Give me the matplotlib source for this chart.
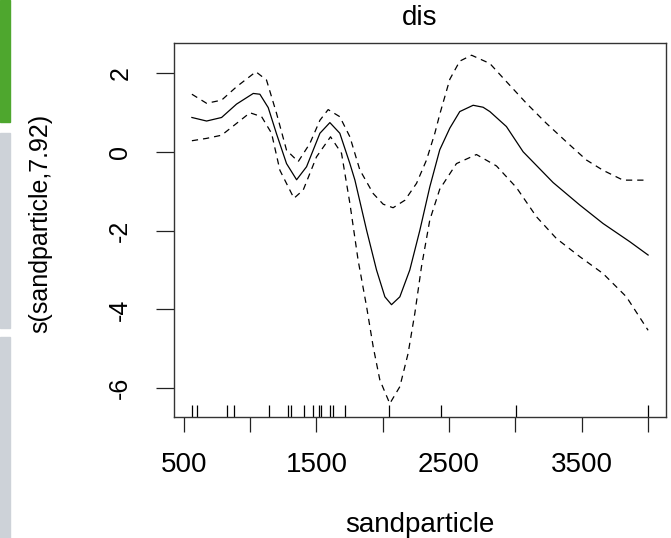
import matplotlib
matplotlib.use("Agg")
import matplotlib.pyplot as plt
from matplotlib.patches import Rectangle

plt.rcParams['font.family'] = ['Liberation Sans', 'DejaVu Sans']

# fitted smooth
fit_x = [560, 671, 784, 897, 1023, 1073, 1136, 1199, 1274, 1350, 1425, 1526, 1601,
         1676, 1752, 1790, 1878, 1953, 2016, 2066, 2129, 2204, 2280, 2355, 2430,
         2506, 2581, 2682, 2757, 2808, 2933, 3059, 3285, 3486, 3662, 3863, 4002]
fit_y = [0.87, 0.78, 0.87, 1.21, 1.48, 1.46, 1.12, 0.45, -0.30, -0.71, -0.38, 0.47, 0.74,
         0.47, -0.30, -0.72, -1.99, -3.00, -3.68, -3.88, -3.68, -3.00, -1.99, -0.89, 0.05,
         0.60, 1.02, 1.18, 1.13, 1.02, 0.64, 0.00, -0.78, -1.35, -1.82, -2.28, -2.62]

# upper confidence band
up_x = [560, 671, 784, 897, 1043, 1123, 1199, 1274, 1362, 1450, 1526, 1588, 1676,
        1752, 1827, 1928, 2003, 2078, 2167, 2255, 2330, 2393, 2430, 2506, 2581,
        2670, 2808, 2933, 3084, 3235, 3386, 3537, 3662, 3813, 3964, 4002]
up_y = [1.46, 1.23, 1.31, 1.65, 2.03, 1.82, 0.97, 0.04, -0.25, 0.21, 0.80, 1.07, 0.89,
        0.38, -0.46, -1.06, -1.33, -1.42, -1.23, -0.80, -0.21, 0.47, 0.95, 1.84, 2.30,
        2.45, 2.24, 1.78, 1.23, 0.72, 0.25, -0.21, -0.47, -0.72, -0.72, -0.72]

# lower confidence band
lo_x = [560, 671, 784, 897, 998, 1086, 1161, 1224, 1330, 1400, 1500, 1606, 1689,
        1752, 1814, 1878, 1928, 1978, 2053, 2129, 2191, 2242, 2292, 2355, 2430,
        2556, 2707, 2858, 3009, 3160, 3310, 3486, 3662, 3838, 4002]
lo_y = [0.28, 0.34, 0.42, 0.72, 0.99, 0.89, 0.47, -0.47, -1.18, -0.97, -0.13, 0.38, -0.04,
        -1.31, -2.75, -3.93, -4.95, -5.79, -6.39, -5.96, -5.12, -4.10, -2.92, -1.73, -0.95,
        -0.30, -0.07, -0.36, -0.91, -1.65, -2.20, -2.66, -3.09, -3.68, -4.53]

# rug (observed sandparticle values)
rug_x = [563, 600, 822, 880, 1139, 1287, 1307, 1407, 1471, 1521, 1531, 1601, 1626,
         1714, 2046, 2436, 3009, 4002]

x_ticks = [500, 1000, 1500, 2000, 2500, 3000, 3500, 4000]
x_ticklabels = ['500', '', '1500', '', '2500', '', '3500', '']
y_ticks = [2, 0, -2, -4, -6]
y_ticklabels = ['2', '0', '-2', '-4', '-6']

W, H = 671, 538
fig = plt.figure(figsize=(W / 100, H / 100), dpi=100)
L, R, T, B = 174, 666, 43, 417
ax = fig.add_axes([L / W, 1 - B / H, (R - L) / W, (B - T) / H])

ax.plot(fit_x, fit_y, color='black', lw=0.9)
ax.plot(up_x, up_y, color='black', lw=0.9, dashes=(5, 4))
ax.plot(lo_x, lo_y, color='black', lw=0.9, dashes=(5, 4))
ax.vlines(rug_x, 0, 12 / (B - T), transform=ax.get_xaxis_transform(),
          color='black', lw=0.9)

ax.set_xlim(425, 4137)
ax.set_ylim(-6.73, 2.76)

ax.set_xticks(x_ticks)
ax.set_xticklabels(x_ticklabels)
ax.set_yticks(y_ticks)
ax.set_yticklabels(y_ticklabels, rotation=90, va='center')
ax.tick_params(axis='x', length=11, width=0.9, pad=14, labelsize=20, color='#222222')
ax.tick_params(axis='y', length=13, width=0.9, pad=17, labelsize=18, color='#222222')
for s in ax.spines.values():
    s.set_linewidth(1.0)
    s.set_color('#333333')

ax.set_xlabel('sandparticle', fontsize=20)
ax.xaxis.set_label_coords(0.5, (B - 525) / (B - T))
ax.xaxis.label.set_va('center')
ax.set_ylabel('s(sandparticle,7.92)', fontsize=18)
ax.yaxis.set_label_coords((40 - L) / (R - L), 0.5 - (223 - (T + B) / 2) / (B - T))
ax.yaxis.label.set_va('center')
ax.text(0.5, 1 + (T - 18) / (B - T), 'dis', transform=ax.transAxes,
        ha='center', va='center', fontsize=20)

# screenshot side strips
fig.patches.append(Rectangle((0, 1 - 122 / H), 10 / W, 122 / H, transform=fig.transFigure,
                             color='#4ea72e', zorder=0))
fig.patches.append(Rectangle((0, 1 - 328 / H), 10 / W, (328 - 133) / H, transform=fig.transFigure,
                             color='#cdd2d8', zorder=0))
fig.patches.append(Rectangle((0, 0), 10 / W, (H - 337) / H, transform=fig.transFigure,
                             color='#cdd2d8', zorder=0))

fig.savefig('out.png', dpi=100)
